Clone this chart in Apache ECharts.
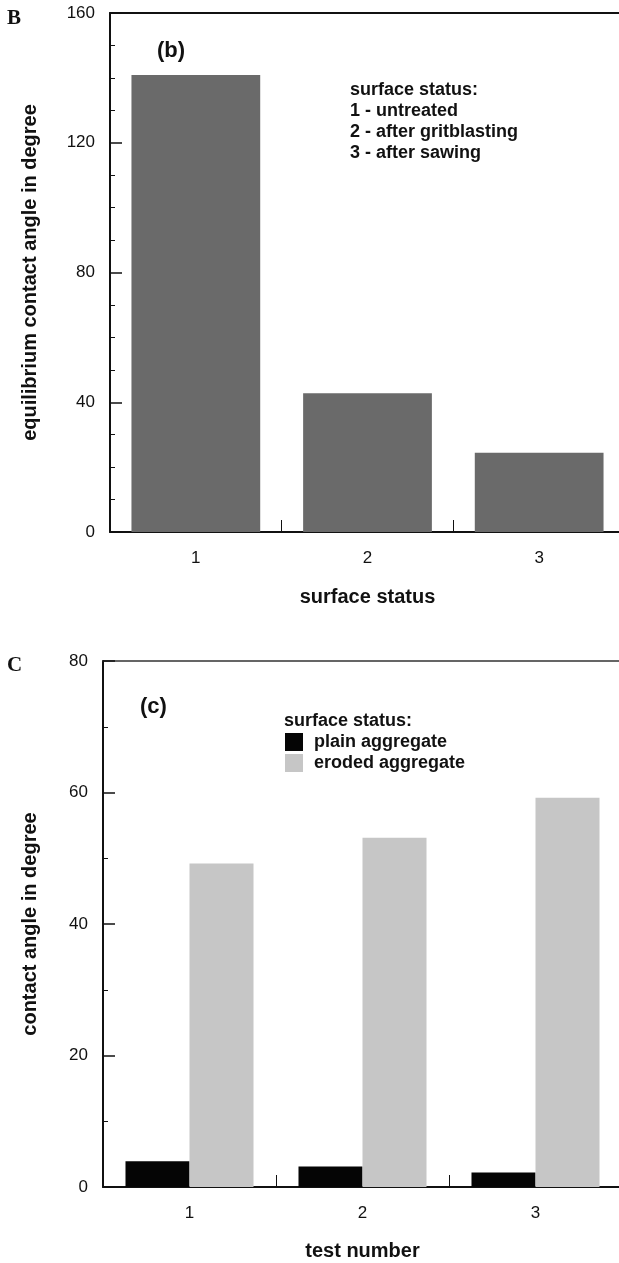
<!DOCTYPE html>
<html>
<head>
<meta charset="UTF-8">
<title>contact angle</title>
<style>
  html, body { margin: 0; padding: 0; background: #fff; overflow: hidden; }
  /* the plot runs a few pixels past the right edge of the page, as in the scan */
  #main { width: 630px; height: 1263px; }
</style>
<script src="https://cdn.jsdelivr.net/npm/echarts@6/dist/echarts.min.js"></script>
</head>
<body>
<div id="main"></div>
<script>
// panel (b)
var surfaceStatus = ['1', '2', '3'];
var equilibriumAngle = [140.9, 42.8, 24.4];
// panel (c)
var testNumbers = ['1', '2', '3'];
var plainAggregate = [3.9, 3.1, 2.2];
var erodedAggregate = [49.2, 53.1, 59.2];

var chart = echarts.init(document.getElementById('main'));

var FONT = '"Liberation Sans", Arial, sans-serif';
var axisLine = { show: true, lineStyle: { color: '#111', width: 2 } };

function panelText(txt, left, top, size, family) {
  return {
    text: txt, left: left, top: top, padding: 0,
    textStyle: { fontFamily: family || FONT, fontWeight: 'bold', fontSize: size, color: '#111', lineHeight: 21 }
  };
}

var option = {
  animation: false,
  backgroundColor: '#fff',
  title: [
    panelText('B', 7, 8, 21, '"Liberation Serif", "Times New Roman", serif'),
    panelText('C', 7, 655, 21, '"Liberation Serif", "Times New Roman", serif'),
    panelText('(b)', 157, 40, 22),
    panelText('(c)', 140, 696, 22),
    panelText('surface status:\n1 - untreated\n2 - after gritblasting\n3 - after sawing', 350, 80, 18),
    panelText('surface status:', 284, 711, 18)
  ],
  legend: {
    orient: 'vertical',
    left: 285, top: 733, padding: 0,
    itemWidth: 18, itemHeight: 18, itemGap: 3,
    icon: 'rect',
    data: ['plain aggregate', 'eroded aggregate'],
    textStyle: { fontFamily: FONT, fontWeight: 'bold', fontSize: 18, color: '#111', padding: [0, 0, 0, 6] }
  },
  grid: [
    { left: 110, top: 13, width: 515, height: 519 },
    { left: 103, top: 661, width: 519, height: 526 }
  ],
  xAxis: [
    {
      gridIndex: 0, type: 'category', data: surfaceStatus,
      name: 'surface status', nameLocation: 'middle', nameGap: 55,
      nameTextStyle: { fontFamily: FONT, fontWeight: 'bold', fontSize: 20, color: '#111' },
      axisLine: axisLine,
      axisTick: { show: true, inside: true, length: 12, lineStyle: { color: '#111' } },
      axisLabel: { margin: 18, fontFamily: FONT, fontSize: 17, color: '#111' }
    },
    {
      gridIndex: 0, type: 'category', data: surfaceStatus, position: 'top',
      axisLine: axisLine, axisTick: { show: false }, axisLabel: { show: false }
    },
    {
      gridIndex: 1, type: 'category', data: testNumbers,
      name: 'test number', nameLocation: 'middle', nameGap: 54,
      nameTextStyle: { fontFamily: FONT, fontWeight: 'bold', fontSize: 20, color: '#111' },
      axisLine: axisLine,
      axisTick: { show: true, inside: true, length: 12, lineStyle: { color: '#111' } },
      axisLabel: { margin: 18, fontFamily: FONT, fontSize: 17, color: '#111' }
    },
    {
      gridIndex: 1, type: 'category', data: testNumbers, position: 'top',
      axisLine: { show: true, lineStyle: { color: '#333', width: 1.5 } },
      axisTick: { show: false }, axisLabel: { show: false }
    }
  ],
  yAxis: [
    {
      gridIndex: 0, type: 'value', min: 0, max: 160, interval: 40,
      name: 'equilibrium contact angle in degree', nameLocation: 'middle', nameGap: 70,
      nameTextStyle: { fontFamily: FONT, fontWeight: 'bold', fontSize: 20, color: '#111' },
      axisLine: axisLine,
      axisTick: { show: true, inside: true, length: 12, lineStyle: { color: '#111', width: 1.5 } },
      minorTick: { show: true, splitNumber: 4, length: 5, lineStyle: { color: '#111' } },
      splitLine: { show: false },
      axisLabel: { margin: 15, fontFamily: FONT, fontSize: 17, color: '#111' }
    },
    {
      gridIndex: 1, type: 'value', min: 0, max: 80, interval: 20,
      name: 'contact angle in degree', nameLocation: 'middle', nameGap: 63,
      nameTextStyle: { fontFamily: FONT, fontWeight: 'bold', fontSize: 20, color: '#111' },
      axisLine: axisLine,
      axisTick: { show: true, inside: true, length: 12, lineStyle: { color: '#111', width: 1.5 } },
      minorTick: { show: true, splitNumber: 2, length: 5, lineStyle: { color: '#111' } },
      splitLine: { show: false },
      axisLabel: { margin: 15, fontFamily: FONT, fontSize: 17, color: '#111' }
    }
  ],
  series: [
    {
      name: 'equilibrium contact angle', type: 'bar',
      xAxisIndex: 0, yAxisIndex: 0,
      barCategoryGap: '25%',
      itemStyle: { color: '#6a6a6a' },
      data: equilibriumAngle
    },
    {
      name: 'plain aggregate', type: 'bar',
      xAxisIndex: 2, yAxisIndex: 1,
      barGap: 0, barCategoryGap: '26%',
      itemStyle: { color: '#050505' },
      data: plainAggregate
    },
    {
      name: 'eroded aggregate', type: 'bar',
      xAxisIndex: 2, yAxisIndex: 1,
      barGap: 0, barCategoryGap: '26%',
      itemStyle: { color: '#c6c6c6' },
      data: erodedAggregate
    }
  ]
};

chart.setOption(option);
</script>
</body>
</html>
